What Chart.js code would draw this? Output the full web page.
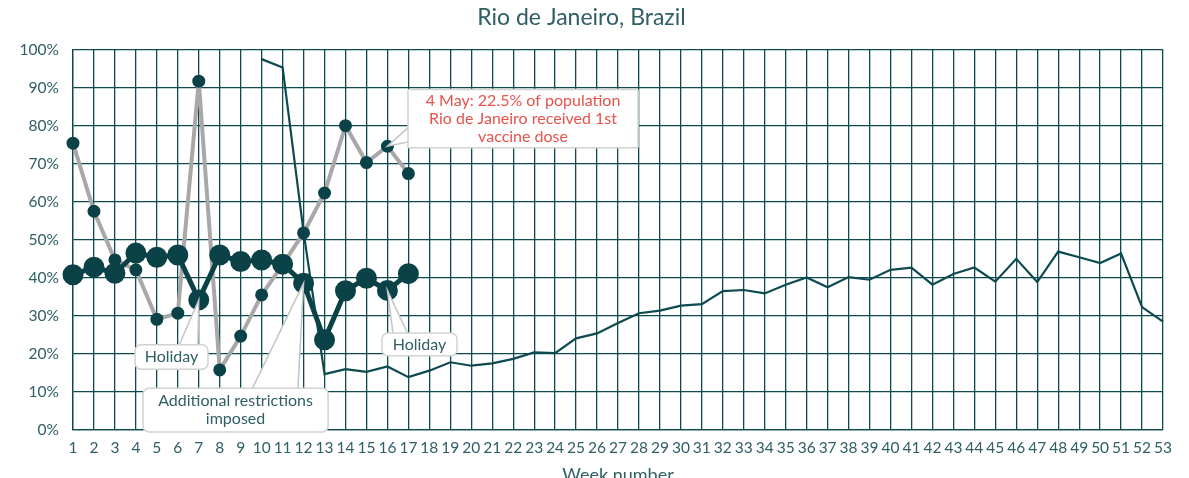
<!DOCTYPE html>
<html>
<head>
<meta charset="utf-8">
<script src="https://cdn.jsdelivr.net/npm/chart.js@4.4.1/dist/chart.umd.min.js"></script>
<style>
  html, body { margin: 0; padding: 0; background: #fff; overflow: hidden; }
  #wrap { width: 1189px; height: 478px; overflow: hidden; }
  #box { width: 1189px; height: 486px; position: relative; }
</style>
</head>
<body>
<div id="wrap"><div id="box"><canvas id="chart"></canvas></div></div>
<script>
// weeks 1..53
const weeks = Array.from({ length: 53 }, (_, i) => String(i + 1));

// thick dark series (weeks 1-17)
const thickSeries = [40.8, 42.8, 41.2, 46.5, 45.4, 46.0, 34.2, 46.0, 44.3, 44.7, 43.6, 38.6, 23.7, 36.6, 39.9, 36.7, 41.1];

// grey series (weeks 1-17)
const greySeries = [75.4, 57.5, 44.7, 42.1, 29.1, 30.7, 91.7, 15.8, 24.7, 35.5, 43.5, 51.8, 62.3, 80.0, 70.3, 74.6, 67.4];

// thin series, starts at week 10
const thinStart = 10;
const thinSeries = [97.5, 95.3, 52.0, 14.7, 16.0, 15.3, 16.7, 13.9, 15.6, 17.8, 16.9, 17.5, 18.7, 20.4, 20.2, 24.1, 25.4,
  28.1, 30.7, 31.4, 32.7, 33.1, 36.5, 36.8, 35.9, 38.2, 40.1, 37.5, 40.2, 39.5, 42.1, 42.7, 38.2, 41.0, 42.7, 39.0,
  45.0, 38.9, 46.9, 45.4, 43.9, 46.4, 32.3, 28.5];

const yTicks = [0, 10, 20, 30, 40, 50, 60, 70, 80, 90, 100];

const pad = (arr, start) => weeks.map((_, i) => {
  const j = i - (start - 1);
  return j >= 0 && j < arr.length ? arr[j] : null;
});

const teal = '#0d4a50';
const textCol = '#2f5e65';
const font = 'Lato, "Noto Sans", sans-serif';

// callouts: box in data units (week, %), wedge base along a box edge, anchor = series point
const callouts = [
  { lines: ['Holiday'], color: textCol, box: [3.96, 22.4, 7.44, 16.0], edge: 'top', base: [6.05, 6.96], anchor: [0, 7], r: 6 },
  { lines: ['Additional restrictions', 'imposed'], color: textCol, box: [4.34, 11.0, 13.17, -0.5], edge: 'top', base: [9.54, 11.73], anchor: [0, 12], r: 6 },
  { lines: ['Holiday'], color: textCol, box: [15.74, 25.5, 19.32, 19.5], edge: 'top', base: [16.27, 16.98], anchor: [0, 16], r: 6 },
  { lines: ['4 May: 22.5% of population', 'Rio de Janeiro received 1st', 'vaccine dose'], color: '#e9524b', box: [16.98, 89.5, 27.96, 74.2], edge: 'left', base: [79.7, 75.8], anchor: [1, 16], r: 1 }
];

const calloutPlugin = {
  id: 'callouts',
  afterDatasetsDraw(chart) {
    const { ctx, scales: { x, y } } = chart;
    const px = w => x.getPixelForValue(w - 1);
    const py = v => y.getPixelForValue(v);
    ctx.save();
    callouts.forEach(c => {
      const x1 = px(c.box[0]), y1 = py(c.box[1]), x2 = px(c.box[2]), y2 = py(c.box[3]);
      const pt = chart.getDatasetMeta(c.anchor[0]).data[c.anchor[1] - 1];
      let b1, b2;
      if (c.edge === 'top') { b1 = [px(c.base[0]), y1 + 1]; b2 = [px(c.base[1]), y1 + 1]; }
      else { b1 = [x1 + 1, py(c.base[0])]; b2 = [x1 + 1, py(c.base[1])]; }
      ctx.beginPath();
      ctx.moveTo(b1[0], b1[1]);
      ctx.lineTo(pt.x, pt.y);
      ctx.lineTo(b2[0], b2[1]);
      ctx.closePath();
      ctx.fillStyle = '#fff';
      ctx.fill();
      ctx.strokeStyle = '#c4c4c4';
      ctx.lineWidth = 1.5;
      ctx.stroke();
      ctx.beginPath();
      ctx.roundRect(x1, y1, x2 - x1, y2 - y1, c.r);
      ctx.fillStyle = '#fff';
      ctx.fill();
      ctx.strokeStyle = '#d2d2d2';
      ctx.lineWidth = 1.5;
      ctx.stroke();
      ctx.fillStyle = c.color;
      ctx.font = '16px ' + font;
      ctx.textAlign = 'center';
      ctx.textBaseline = 'middle';
      const lh = 18;
      const cy = (y1 + y2) / 2 - (c.lines.length - 1) * lh / 2;
      c.lines.forEach((t, i) => ctx.fillText(t, (x1 + x2) / 2, cy + i * lh));
    });
    ctx.restore();
  }
};

new Chart(document.getElementById('chart'), {
  type: 'line',
  data: {
    labels: weeks,
    datasets: [
      {
        data: pad(thickSeries, 1),
        borderColor: '#0a4247',
        backgroundColor: '#0a4247',
        borderWidth: 5,
        pointRadius: 8,
        pointHoverRadius: 8,
        tension: 0
      },
      {
        data: pad(greySeries, 1),
        borderColor: '#a8a8a8',
        backgroundColor: '#0a4247',
        pointBorderColor: '#0a4247',
        borderWidth: 4,
        pointRadius: 4.5,
        pointHoverRadius: 4.5,
        tension: 0
      },
      {
        data: pad(thinSeries, thinStart),
        borderColor: '#0d4a50',
        borderWidth: 2.2,
        pointRadius: 0,
        tension: 0
      }
    ]
  },
  options: {
    responsive: true,
    maintainAspectRatio: false,
    animation: false,
    layout: { padding: { left: 0, right: 26, top: 0, bottom: 0 } },
    plugins: {
      legend: { display: false },
      tooltip: { enabled: false },
      title: {
        display: true,
        text: 'Rio de Janeiro, Brazil',
        color: textCol,
        font: { family: font, size: 23, weight: 'normal' },
        padding: { top: 4, bottom: 18 }
      }
    },
    scales: {
      x: {
        grid: { color: teal, lineWidth: 1.3, drawTicks: false },
        border: { color: teal, width: 1.3 },
        ticks: {
          color: textCol,
          autoSkip: false,
          maxRotation: 0,
          padding: 9,
          font: { family: font, size: 15.5 }
        },
        title: {
          display: true,
          text: 'Week number',
          color: textCol,
          font: { family: font, size: 18 },
          padding: { top: 2, bottom: 0 }
        },
        afterFit: s => { s.height = 56; }
      },
      y: {
        min: 0,
        max: 100,
        afterBuildTicks: s => { s.ticks = yTicks.map(v => ({ value: v })); },
        grid: { color: teal, lineWidth: 1.3, drawTicks: false },
        border: { color: teal, width: 1.3 },
        ticks: {
          color: textCol,
          padding: 14,
          font: { family: font, size: 15.5 },
          callback: v => v + '%'
        },
        afterFit: s => { s.width = 73; }
      }
    }
  },
  plugins: [calloutPlugin]
});
</script>
</body>
</html>
